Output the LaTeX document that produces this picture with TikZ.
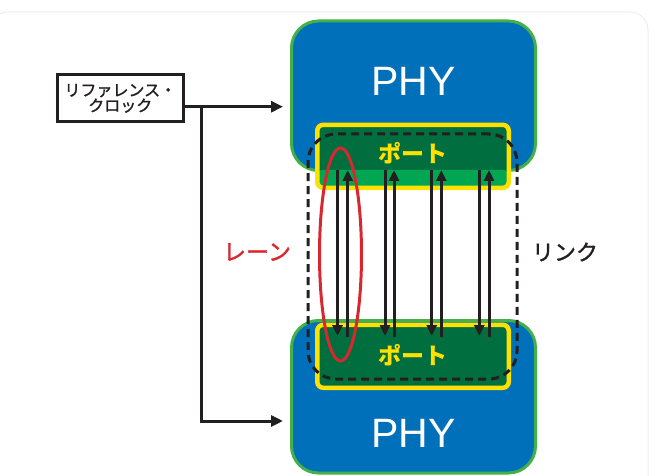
\documentclass[tikz,border=0pt]{standalone}
\usepackage{fontspec}
\setmainfont{Liberation Sans}
\newfontfamily\jp{Noto Sans CJK JP}
\newfontfamily\jpm[FakeBold=1.4]{Noto Sans CJK JP}
\usetikzlibrary{arrows.meta}
\definecolor{phyblue}{HTML}{0070BB}
\definecolor{phygreen}{HTML}{45B04A}
\definecolor{portyellow}{HTML}{FFE100}
\definecolor{portdark}{HTML}{006E3E}
\definecolor{portlight}{HTML}{00A651}
\definecolor{lanered}{HTML}{D7282F}
\definecolor{ink}{HTML}{231F20}
\begin{document}
\begin{tikzpicture}[x=1pt,y=-1pt,
  phybox/.style={draw=phygreen, line width=3pt, fill=phyblue, rounded corners=27pt,
    minimum width=244pt, inner sep=0pt},
  phytext/.style={text=white, font=\fontsize{41}{41}\selectfont},
  portbox/.style={draw=portyellow, line width=4.5pt, fill=portdark, rounded corners=6pt,
    minimum width=191.5pt, minimum height=63pt, inner sep=0pt},
  porttext/.style={text=portyellow, font=\jp\bfseries\fontsize{23}{23}\selectfont},
  lanearrow/.style={draw=ink, line width=3pt, -{Triangle[length=11pt,width=10pt]}},
  clockarrow/.style={draw=ink, line width=3pt, -{Triangle[length=12pt,width=11pt]}},
  linkbox/.style={draw=ink, line width=3pt, dash pattern=on 8pt off 5pt, rounded corners=28pt},
]
\useasboundingbox (0,0) rectangle (651,476);
\draw[black!7, line width=1pt, rounded corners=18pt] (-10,12) rectangle (648,520);

% PHY boxes
\node[phybox, minimum height=149.5pt] (phy1) at (413.5,95.75) {};
\node[phybox, minimum height=152.5pt] (phy2) at (413.5,396.75) {};
\node[phytext] (phy1t) at (413.5,81) {PHY};
\node[phytext] (phy2t) at (413.5,433) {PHY};

% ports
\node[portbox, path picture={\fill[portlight] (path picture bounding box.south west) rectangle ([yshift=18pt]path picture bounding box.south east);}] (port1) at (413,156.3) {};
\node[portbox] (port2) at (413,356.3) {};
\node[porttext] (port1t) at (413,153) {ポート};
\node[porttext] (port2t) at (413,355) {ポート};

% lanes
\foreach \xd/\xu [count=\i] in {337.5/347.7, 385/394, 431.7/441.3, 479.3/489}{
  \coordinate (dT\i) at (\xd,170);
  \coordinate (dB\i) at (\xd,336);
  \coordinate (uB\i) at (\xu,337);
  \coordinate (uT\i) at (\xu,170);
  \draw[lanearrow] (dT\i) -- (dB\i);
  \draw[lanearrow] (uB\i) -- (uT\i);
}

% lane ellipse
\draw[lanered, line width=3pt] (340.5,254.5) ellipse [x radius=21pt, y radius=106.5pt];
\node[text=lanered, font=\jpm\fontsize{23}{23}\selectfont] (lane) at (257,252) {レーン};

% link
\node[linkbox, minimum width=209pt, minimum height=245pt, inner sep=0pt] (link) at (412.5,256.5) {};
\node[text=ink, font=\jpm\fontsize{22}{22}\selectfont] (linkt) at (565,252) {リンク};

% reference clock
\node[draw=ink, line width=3pt, minimum width=126pt, minimum height=47pt, inner sep=0pt,
  align=center, text=ink, font=\jpm\fontsize{16}{15.5}\selectfont] (clock) at (120.3,98.3)
  {リファレンス・\\クロック};
\coordinate (br) at (201.7,106.7);
\coordinate (low) at (201.7,421);
\draw[clockarrow, shorten >=7pt] (clock.east |- br) -- (phy1.west |- br);
\draw[clockarrow, shorten >=7pt] (br) -- (low) -- (phy2.west |- low);
\end{tikzpicture}
\end{document}
